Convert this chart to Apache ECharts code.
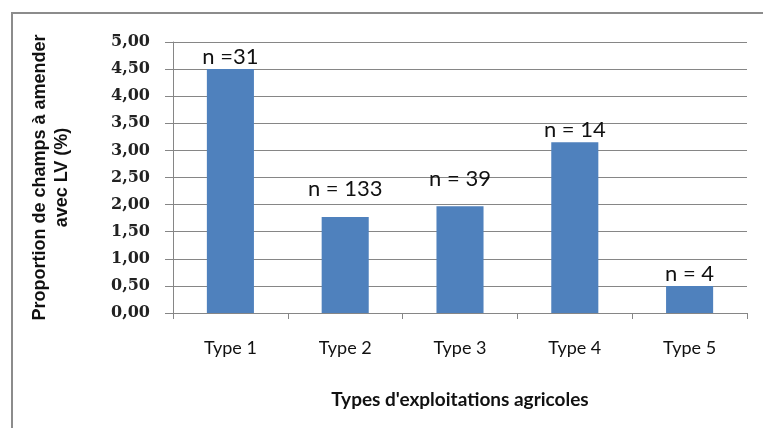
<!DOCTYPE html>
<html>
<head>
<meta charset="utf-8">
<script src="https://cdn.jsdelivr.net/npm/echarts@6/dist/echarts.min.js"></script>
<style>
html,body{margin:0;padding:0;background:#fff;}
#chart{width:763px;height:428px;}
</style>
</head>
<body>
<div id="chart"></div>
<script>
// Farm types and the share of fields to amend with LV (%)
var categories = ['Type 1', 'Type 2', 'Type 3', 'Type 4', 'Type 5'];
var values = [4.50, 1.77, 1.97, 3.15, 0.50];
var sampleLabels = ['n =31', 'n = 133', 'n = 39', 'n = 14', 'n = 4'];
var yTicks = { min: 0, max: 5, step: 0.5 };

// extra vertical lift (px) for some annotations
var labelLift = [0, 16, 15, 0, 0];

var chart = echarts.init(document.getElementById('chart'));
var gridColor = '#868686';

var data = values.map(function (v, i) {
  return {
    value: v,
    label: { offset: [0, -labelLift[i]] }
  };
});

chart.setOption({
  animation: false,
  backgroundColor: '#ffffff',
  graphic: [{
    type: 'rect',
    shape: { x: 12, y: 13, width: 900, height: 600 },
    style: { fill: 'none', stroke: '#8c8c8c', lineWidth: 2 },
    silent: true
  }],
  grid: { left: 173, right: 16, top: 42, bottom: 115 },
  xAxis: {
    type: 'category',
    data: categories,
    axisLine: { lineStyle: { color: gridColor, width: 1 } },
    axisTick: { show: true, length: 6, lineStyle: { color: gridColor } },
    axisLabel: {
      color: '#111',
      fontFamily: 'Lato',
      fontSize: 18,
      margin: 26
    },
    name: "Types d'exploitations agricoles",
    nameLocation: 'middle',
    nameGap: 77,
    nameTextStyle: {
      color: '#111',
      fontFamily: 'Lato',
      fontWeight: 'bold',
      fontSize: 19
    }
  },
  yAxis: {
    type: 'value',
    min: yTicks.min,
    max: yTicks.max,
    interval: yTicks.step,
    axisLine: { show: true, lineStyle: { color: gridColor, width: 1 } },
    axisTick: { show: true, length: 8, lineStyle: { color: gridColor } },
    splitLine: { lineStyle: { color: gridColor, width: 1 } },
    axisLabel: {
      color: '#222',
      fontFamily: 'DejaVu Serif',
      fontWeight: 'bold',
      fontSize: 16,
      margin: 23,
      formatter: function (v) { return v.toFixed(2).replace('.', ','); }
    },
    name: 'Proportion de champs à amender\navec LV (%)',
    nameLocation: 'middle',
    nameGap: 100,
    nameRotate: 90,
    nameTextStyle: {
      color: '#111',
      fontFamily: 'Liberation Sans',
      fontWeight: 'bold',
      fontSize: 18,
      lineHeight: 22
    }
  },
  series: [{
    type: 'bar',
    data: data,
    barWidth: '41%',
    itemStyle: { color: '#4f81bd' },
    label: {
      show: true,
      position: 'top',
      distance: 1,
      color: '#111',
      fontFamily: 'Lato',
      fontSize: 22,
      formatter: function (p) { return sampleLabels[p.dataIndex]; }
    }
  }]
});
</script>
</body>
</html>
